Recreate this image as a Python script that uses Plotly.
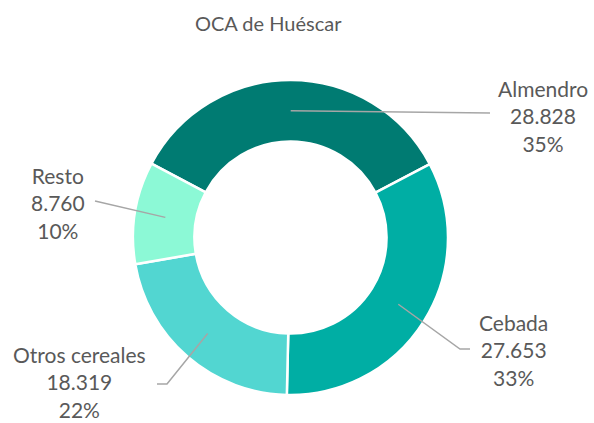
import numpy as np
import plotly.graph_objects as go

# Superficie por cultivo en la OCA de Huéscar
categorias = ["Almendro", "Cebada", "Otros cereales", "Resto"]
superficie = [28828, 27653, 18319, 8760]
porcentajes = [35, 33, 22, 10]
colores = ["#007B72", "#00AEA4", "#52D6D1", "#8CF9D6"]

W, H = 594, 423
CX, CY, R_OUT = 290.5, 237.5, 157.5
HOLE = 0.61
ROTATION = -62
GRIS_TEXTO = "#595959"
GRIS_LINEA = "#A6A6A6"
FUENTE = "Lato"

fig = go.Figure()
fig.add_trace(go.Pie(
    labels=categorias,
    values=superficie,
    hole=HOLE,
    sort=False,
    direction="clockwise",
    rotation=ROTATION,
    marker=dict(colors=colores, line=dict(color="white", width=2.5)),
    textinfo="none",
    hoverinfo="label+value+percent",
    showlegend=False,
    domain=dict(x=[(CX - R_OUT) / W, (CX + R_OUT) / W],
                y=[1 - (CY + R_OUT) / H, 1 - (CY - R_OUT) / H]),
))


def px(x, y):
    return x / W, 1 - y / H


# mid angle (clockwise from 12 o'clock) of each slice, from the data
vals = np.array(superficie, dtype=float)
frac = vals / vals.sum()
ends = ROTATION + 360 * np.cumsum(frac)
mids = ends - 180 * frac
r_mid = R_OUT * (1 + HOLE) / 2

# leader line bends and label centres (pixels)
recorridos = [
    [(490, 113)],
    [(460, 349), (470, 349)],
    [(167, 384), (157, 384)],
    [(95, 201)],
]
etiquetas = [(543, 116), (513, 350), (79, 382), (58, 203)]

shapes = []
annotations = []
for nombre, v, p, ang, ruta, (lx, ly) in zip(categorias, superficie, porcentajes,
                                              mids, recorridos, etiquetas):
    a = np.deg2rad(ang)
    sx, sy = CX + r_mid * np.sin(a), CY - r_mid * np.cos(a)
    pts = [(sx, sy)] + ruta
    path = ""
    for i, (x, y) in enumerate(pts):
        u, w = px(x, y)
        path += ("M" if i == 0 else " L") + f" {u:.5f},{w:.5f}"
    shapes.append(dict(type="path", path=path, xref="paper", yref="paper",
                       line=dict(color=GRIS_LINEA, width=1.5)))
    u, w = px(lx, ly)
    valor = f"{v:,}".replace(",", ".")
    annotations.append(dict(
        text=f"{nombre}<br>{valor}<br>{p}%", x=u, y=w, xref="paper", yref="paper",
        xanchor="center", yanchor="middle", showarrow=False, align="center",
        font=dict(family=FUENTE, size=21, color=GRIS_TEXTO),
    ))

tx, ty = px(268.5, 23)
annotations.append(dict(
    text="OCA de Huéscar", x=tx, y=ty, xref="paper", yref="paper",
    xanchor="center", yanchor="middle", showarrow=False,
    font=dict(family=FUENTE, size=20, color=GRIS_TEXTO),
))

fig.update_layout(
    width=W, height=H,
    margin=dict(l=0, r=0, t=0, b=0),
    paper_bgcolor="white", plot_bgcolor="white",
    shapes=shapes, annotations=annotations,
)

fig.write_html("out.html")
